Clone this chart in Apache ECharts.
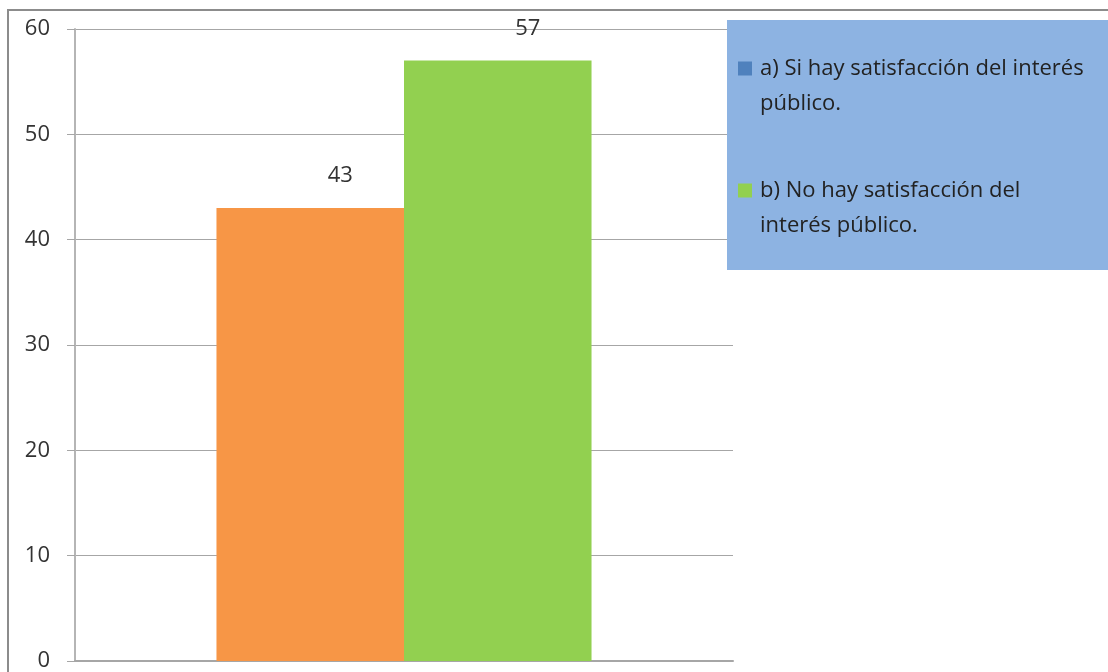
<!DOCTYPE html>
<html><head><meta charset="utf-8">
<script src="https://cdn.jsdelivr.net/npm/echarts@6/dist/echarts.min.js"></script>
<style>html,body{margin:0;padding:0;background:#fff}#c{width:1108px;height:672px}</style>
</head><body><div id="c"></div>
<script>
const categories = [''];
const seriesNames = ['a) Si hay satisfacción del interés\npúblico.', 'b) No hay satisfacción del\ninterés público.'];
const seriesValues = [[43], [57]];
const barColors = ['#F79646', '#92D050'];
const legendColors = ['#4F81BD', '#92D050'];
const yTicks = [0, 10, 20, 30, 40, 50, 60];

const font = 'Open Sans';
const chart = echarts.init(document.getElementById('c'));
chart.setOption({
  backgroundColor: '#fff',
  animation: false,
  textStyle: { fontFamily: font },
  grid: { left: 75, right: 375, top: 29, bottom: 11 },
  graphic: [
    { type: 'rect', shape: { x: 8, y: 10, width: 1200, height: 800 }, style: { fill: 'none', stroke: '#8c8c8c', lineWidth: 2 }, z: 0 },
    { type: 'rect', shape: { x: 727, y: 20, width: 381, height: 250 }, style: { fill: '#8DB3E2' }, z: 5 }
  ],
  legend: {
    orient: 'vertical', left: 738, top: 16, padding: 0, itemWidth: 14, itemHeight: 14, itemGap: 17,
    icon: 'rect', z: 10,
    formatter: n => '\n' + n,
    textStyle: { fontSize: 22, color: '#222', fontFamily: font, lineHeight: 35, padding: [0, 0, 0, 3] },
    data: seriesNames.map((n, i) => ({ name: n, itemStyle: { color: legendColors[i] } }))
  },
  xAxis: {
    type: 'category', data: categories,
    axisLine: { lineStyle: { color: '#a6a6a6', width: 2 } },
    axisTick: { show: false }, axisLabel: { show: false }
  },
  yAxis: {
    type: 'value', min: yTicks[0], max: yTicks[yTicks.length - 1], interval: 10,
    axisLine: { show: true, lineStyle: { color: '#b5b5b5', width: 2 } },
    axisTick: { show: true, length: 8, lineStyle: { color: '#a6a6a6' } },
    axisLabel: { margin: 25, fontSize: 22, color: '#333', fontFamily: font },
    splitLine: { lineStyle: { color: '#a6a6a6', width: 1 } }
  },
  series: seriesNames.map((n, i) => ({
    name: n, type: 'bar', data: seriesValues[i],
    barGap: '0%', barCategoryGap: '43%',
    itemStyle: { color: barColors[i] },
    label: { show: true, position: 'top', offset: [30, -16], fontSize: 22, color: '#333', fontFamily: font }
  }))
});
</script></body></html>
